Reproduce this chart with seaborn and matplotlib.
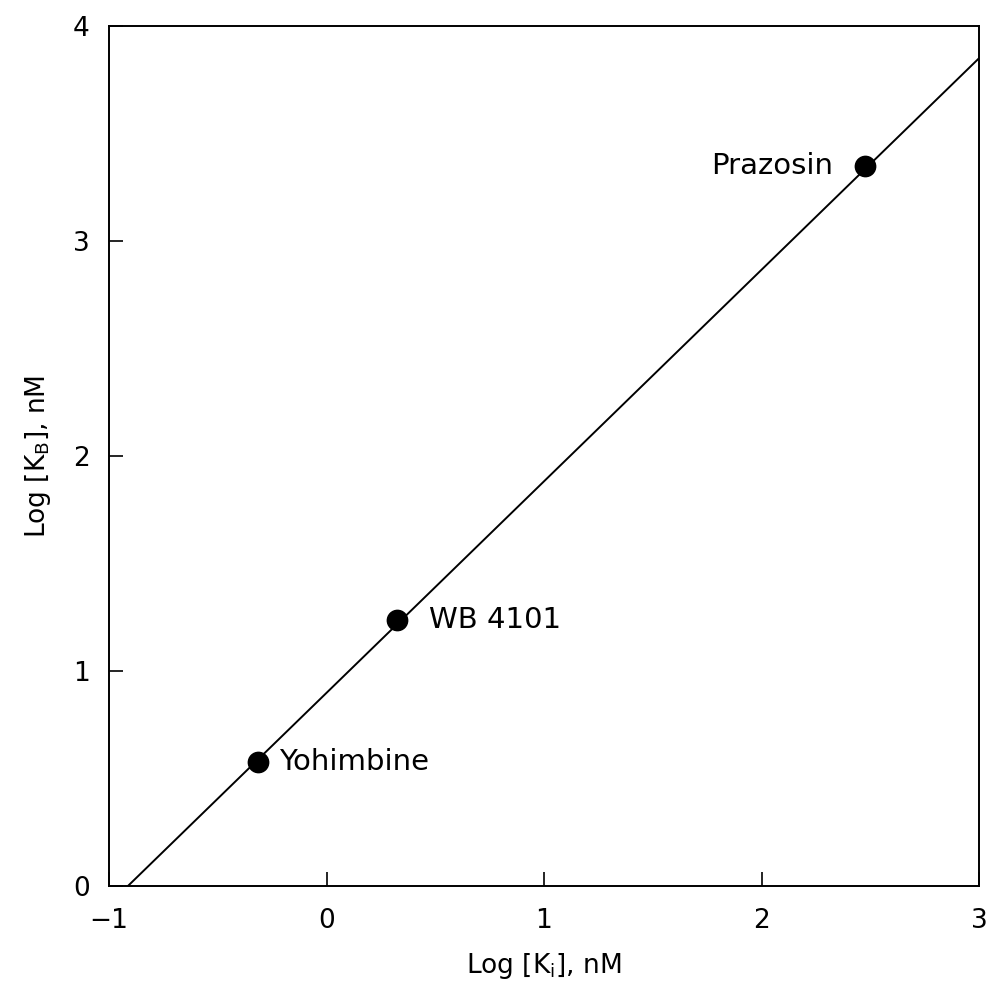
import numpy as np
import pandas as pd
import matplotlib
matplotlib.use("Agg")
import matplotlib.pyplot as plt
import seaborn as sns

# data
drugs = ["Yohimbine", "WB 4101", "Prazosin"]
log_ki = [-0.315, 0.324, 2.476]
log_kb = [0.577, 1.237, 3.349]

# regression line end points
line_x = [-0.913, 3.0]
line_y = [0.0, 3.85]

sns.set_style("ticks")
plt.rcParams["font.family"] = ["DejaVu Sans"]
plt.rcParams["axes.unicode_minus"] = False
plt.rcParams["text.color"] = "black"
plt.rcParams["axes.labelcolor"] = "black"
plt.rcParams["xtick.color"] = "black"
plt.rcParams["ytick.color"] = "black"

df = pd.DataFrame({"drug": drugs, "ki": log_ki, "kb": log_kb})
df_line = pd.DataFrame({"x": line_x, "y": line_y})

fig = plt.figure(figsize=(9.94, 9.94), dpi=100)
ax = fig.add_axes([109 / 994, 108 / 994, 870 / 994, 860 / 994])

sns.lineplot(data=df_line, x="x", y="y", color="black", linewidth=1.4, ax=ax)
sns.scatterplot(data=df, x="ki", y="kb", color="black", s=210, edgecolor="black",
                zorder=3, ax=ax)

# labels next to points
offsets = {"Yohimbine": (15, 0, "left"), "WB 4101": (23, 0, "left"), "Prazosin": (-23, 0, "right")}
for name, xv, yv in zip(drugs, log_ki, log_kb):
    dx, dy, ha = offsets[name]
    ax.annotate(name, (xv, yv), xytext=(dx, dy), textcoords="offset points",
                ha=ha, va="center", fontsize=21)

ax.set_xlim(-1, 3)
ax.set_ylim(0, 4)
ax.set_xticks([-1, 0, 1, 2, 3])
ax.set_yticks([0, 1, 2, 3, 4])
ax.set_xticklabels(["\u22121", "0", "1", "2", "3"])
ax.tick_params(direction="in", length=10, width=1.2, labelsize=19, pad=14,
               top=False, right=False)
ax.tick_params(axis="x", pad=16)

for sp in ax.spines.values():
    sp.set_visible(True)
    sp.set_linewidth(1.4)
    sp.set_color("black")

ax.set_xlabel("Log [K$_\\mathregular{i}$], nM", fontsize=19, labelpad=12)
ax.set_ylabel("Log [K$_\\mathregular{B}$], nM", fontsize=19, labelpad=14)

fig.savefig("out.png", dpi=100, facecolor="white")
